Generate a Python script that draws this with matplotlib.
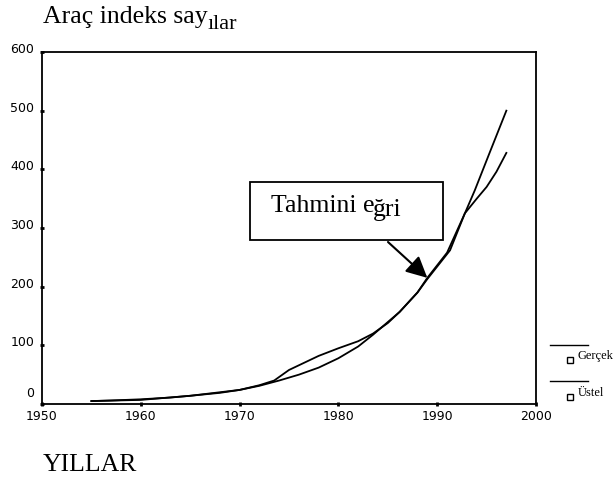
import matplotlib
matplotlib.use("Agg")
import matplotlib.pyplot as plt
from matplotlib.lines import Line2D
from matplotlib.patches import Rectangle
import matplotlib.transforms as mtransforms

# veriler
yil_gercek = [1955, 1960, 1965, 1970, 1972, 1973.5, 1975, 1976, 1978, 1980, 1982,
              1983.5, 1985, 1986.2, 1988, 1989, 1991, 1992.8, 1994, 1995, 1996, 1997]
gercek = [5, 7, 14, 24, 32, 40, 58, 66, 82, 95, 107,
          120, 138, 157, 190, 215, 258, 325, 350, 370, 396, 428]

yil_ustel = [1955, 1957, 1960, 1963, 1965, 1968, 1970, 1972, 1974, 1976, 1978, 1980,
             1982, 1983.5, 1986.2, 1988, 1989, 1991.3, 1992.8, 1993.8, 1995.3, 1997]
ustel = [5, 6, 8, 11, 14, 19, 24, 31, 40, 50, 62, 78,
         98, 118, 157, 190, 213, 262, 325, 364, 428, 500]

x_ticks = [1950, 1960, 1970, 1980, 1990, 2000]
y_ticks = [0, 100, 200, 300, 400, 500, 600]

serif = ['Liberation Serif', 'DejaVu Serif']
sans = ['DejaVu Sans']

W, H = 614, 480
fig = plt.figure(figsize=(W / 100, H / 100), dpi=100)
ax = fig.add_axes([42 / W, 1 - 404 / H, (536 - 42) / W, (404 - 52) / H])

ax.plot(yil_gercek, gercek, color='black', lw=1.3)
ax.plot(yil_ustel, ustel, color='black', lw=1.3)

ax.set_xlim(1950, 2000)
ax.set_ylim(0, 600)
ax.set_xticks(x_ticks)
ax.set_yticks(y_ticks)
for s in ax.spines.values():
    s.set_linewidth(1.3)
ax.tick_params(direction='inout', length=3, width=2, labelsize=9)
ax.tick_params(axis='y', pad=4)
ax.tick_params(axis='x', pad=2.5)
for lab in ax.get_xticklabels() + ax.get_yticklabels():
    lab.set_family(sans)
# y etiketleri cizgilerin biraz ustunde, "0" daha da yukarida
for i, lab in enumerate(ax.get_yticklabels()):
    up = 12 if i == 0 else 4
    lab.set_transform(lab.get_transform() +
                      mtransforms.ScaledTranslation(0, up / 100, fig.dpi_scale_trans))

def fx(px):
    return px / W

def fy(py):
    return 1 - py / H

# baslik ve eksen adi
fig.text(fx(43), fy(23), 'Araç indeks say', family=serif, fontsize=18.5, va='baseline', ha='left')
fig.text(fx(207), fy(29), 'ılar', family=serif, fontsize=16, va='baseline', ha='left')
fig.text(fx(43), fy(471), 'YILLAR', family=serif, fontsize=18.5, va='baseline', ha='left')

# tahmini egri kutusu
fig.add_artist(Rectangle((fx(250), fy(240)), fx(443) - fx(250), fy(182) - fy(240),
                         transform=fig.transFigure, fill=False, lw=1.3, ec='black'))
fig.text(fx(271), fy(212), 'Tahmini e', family=serif, fontsize=18.5,
         ha='left', va='baseline')
fig.text(fx(373), fy(216), 'ğri', family=serif, fontsize=18.5,
         ha='left', va='baseline')
ax.annotate('', xy=(1989, 215), xycoords='data',
            xytext=(fx(388), fy(242)), textcoords='figure fraction',
            arrowprops=dict(arrowstyle='-|>', mutation_scale=32, lw=1.5, color='black',
                            shrinkA=0, shrinkB=0))

# lejant
for ly, my, ty, name in [(345, 360, 356, 'Gerçek'), (381, 397, 393, 'Üstel')]:
    fig.add_artist(Line2D([fx(550), fx(588)], [fy(ly), fy(ly)], color='black', lw=1,
                          transform=fig.transFigure))
    fig.add_artist(Line2D([fx(570)], [fy(my)], marker='s', markersize=4, mfc='white',
                          mec='black', mew=1, transform=fig.transFigure))
    fig.text(fx(578), fy(ty), name, family=serif, fontsize=9, va='center', ha='left')

fig.savefig('out.png', dpi=100)
